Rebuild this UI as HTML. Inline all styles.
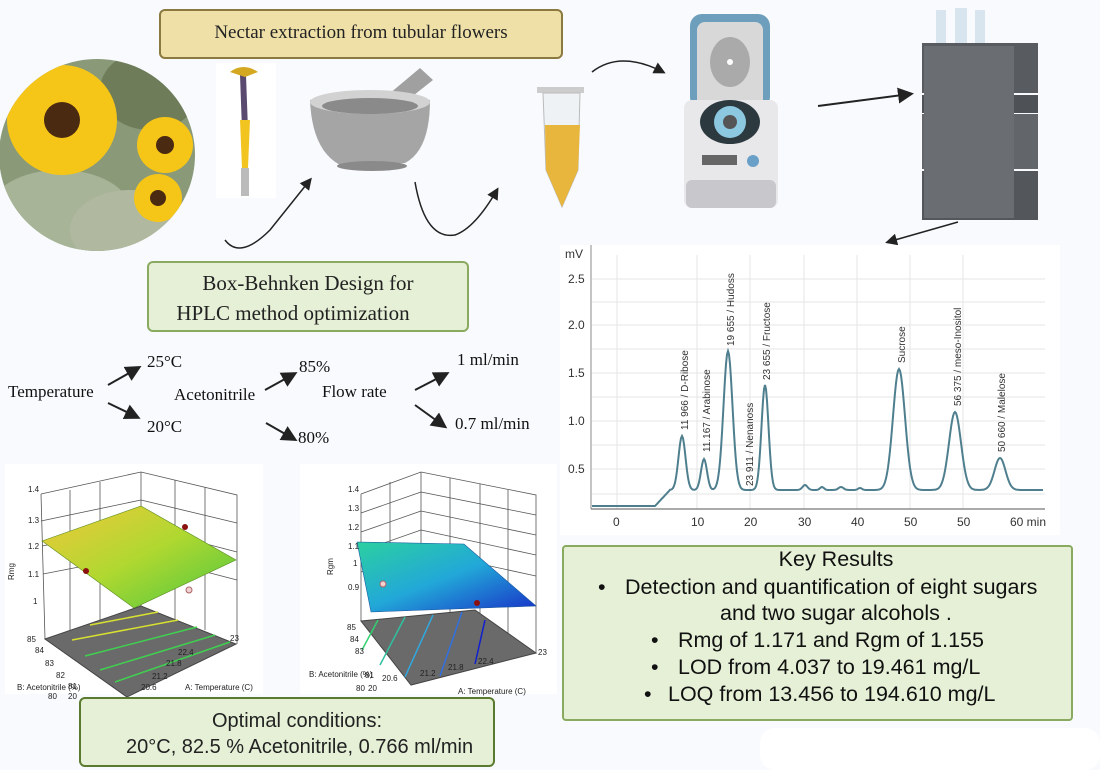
<!DOCTYPE html>
<html><head><meta charset="utf-8"><style>
body{margin:0;width:1100px;height:770px;background:#f8fafd;overflow:hidden;font-family:"Liberation Serif",serif}
svg{position:absolute;left:0;top:0}
</style></head><body>
<svg width="1100" height="770" viewBox="0 0 1100 770" xmlns="http://www.w3.org/2000/svg">
<defs>
<marker id="ah" markerWidth="8" markerHeight="8" refX="6" refY="4" orient="auto"><path d="M0,0 L8,4 L0,8 Z" fill="#222"/></marker>
<clipPath id="cc"><ellipse cx="97" cy="155" rx="98" ry="96"/></clipPath>
<linearGradient id="g1" x1="0" y1="0" x2="1" y2="1"><stop offset="0" stop-color="#f0c83a"/><stop offset="0.5" stop-color="#b0d830"/><stop offset="1" stop-color="#4cc640"/></linearGradient>
<linearGradient id="g2" x1="0" y1="0" x2="1" y2="1"><stop offset="0" stop-color="#2cd0a0"/><stop offset="0.5" stop-color="#22a8d8"/><stop offset="1" stop-color="#1830c8"/></linearGradient>
</defs>
<rect width="1100" height="770" fill="#f8fafd"/>
<!-- flower photo -->
<g clip-path="url(#cc)">
<rect x="-10" y="50" width="210" height="210" fill="#8a9a78"/>
<ellipse cx="60" cy="210" rx="70" ry="40" fill="#a8b498"/>
<ellipse cx="150" cy="90" rx="50" ry="40" fill="#6e7c5a"/>
<ellipse cx="130" cy="230" rx="60" ry="40" fill="#b0b8a0"/>
<circle cx="62" cy="120" r="55" fill="#f5c518"/>
<circle cx="62" cy="120" r="18" fill="#4a2a10"/>
<circle cx="165" cy="145" r="28" fill="#f5c518"/>
<circle cx="165" cy="145" r="9" fill="#4a2a10"/>
<circle cx="158" cy="198" r="24" fill="#f5c518"/>
<circle cx="158" cy="198" r="8" fill="#4a2a10"/>
</g>
<!-- tubular flower -->
<rect x="216" y="63" width="60" height="135" fill="#ffffff"/>
<path d="M240,75 L246,75 L248,130 L242,130 Z" fill="#5a4a70"/>
<path d="M240,120 L250,120 L248,168 L242,168 Z" fill="#f2c420"/>
<path d="M230,72 Q243,62 258,72 L245,77 Z" fill="#d4a820"/>
<rect x="241" y="168" width="8" height="28" fill="#bbb"/>
<!-- nectar box -->
<rect x="160" y="10" width="402" height="48" rx="5" fill="#efe0a8" stroke="#8b7a3f" stroke-width="2"/>
<text x="361" y="38" font-size="19" text-anchor="middle" fill="#222">Nectar extraction from tubular flowers</text>
<!-- mortar -->
<path d="M370,110 L420,68 L433,80 L385,118 Z" fill="#a0a0a0"/>
<path d="M310,100 Q370,88 430,100 Q430,150 405,163 L340,165 Q312,150 310,100 Z" fill="#a5a5a5"/>
<ellipse cx="370" cy="102" rx="60" ry="12" fill="#d2d2d2"/>
<ellipse cx="370" cy="106" rx="48" ry="8" fill="#8a8a8a"/>
<ellipse cx="372" cy="166" rx="35" ry="5" fill="#8a8a8a"/>
<!-- arrows top -->
<path d="M225,240 Q240,260 270,230 Q290,205 310,180" fill="none" stroke="#222" stroke-width="1.5" marker-end="url(#ah)"/>
<path d="M415,182 Q425,240 455,235 Q475,228 497,190" fill="none" stroke="#222" stroke-width="1.5" marker-end="url(#ah)"/>
<path d="M592,72 Q620,50 663,72" fill="none" stroke="#222" stroke-width="1.5" marker-end="url(#ah)"/>
<path d="M818,106 L910,94" fill="none" stroke="#222" stroke-width="2" marker-end="url(#ah)"/>
<path d="M958,222 L888,242" fill="none" stroke="#222" stroke-width="1.5" marker-end="url(#ah)"/>
<!-- tube -->
<rect x="537" y="87" width="47" height="6" fill="#ccc"/>
<path d="M543,93 L580,93 L578,170 L562,207 L546,170 Z" fill="#eef2f4" stroke="#bbb"/>
<path d="M545,125 L580,125 L578,170 L562,207 L546,170 Z" fill="#e8b63c"/>
<!-- centrifuge -->
<rect x="690" y="14" width="80" height="95" rx="12" fill="#6d9fbd"/>
<rect x="697" y="22" width="66" height="85" rx="8" fill="#d8d8d8"/>
<ellipse cx="730" cy="62" rx="20" ry="25" fill="#aaa"/>
<circle cx="730" cy="62" r="3" fill="#fff"/>
<rect x="684" y="100" width="94" height="108" rx="8" fill="#e8e8ea"/>
<ellipse cx="730" cy="122" rx="30" ry="22" fill="#2c3a40"/>
<circle cx="730" cy="122" r="16" fill="#8cc8e0"/>
<circle cx="730" cy="122" r="7" fill="#555"/>
<rect x="702" y="155" width="35" height="10" fill="#666"/>
<circle cx="753" cy="161" r="6" fill="#6aa0c8"/>
<rect x="686" y="180" width="90" height="28" rx="6" fill="#c8c8cc"/>
<!-- HPLC -->
<rect x="936" y="10" width="10" height="33" fill="#d8e4ee"/><rect x="955" y="8" width="12" height="35" fill="#d8e4ee"/><rect x="975" y="10" width="10" height="33" fill="#d8e4ee"/>
<rect x="922" y="43" width="116" height="50" fill="#585b60"/>
<rect x="922" y="95" width="116" height="18" fill="#4e5156"/>
<rect x="922" y="114" width="116" height="55" fill="#62656a"/>
<rect x="922" y="171" width="116" height="49" fill="#53565b"/>
<rect x="924" y="46" width="90" height="172" fill="#6a6d72"/>
<!-- Box-Behnken -->
<rect x="148" y="262" width="320" height="69" rx="5" fill="#e5f0d6" stroke="#8aaa60" stroke-width="2"/>
<text x="308" y="290" font-size="21" text-anchor="middle" fill="#222">Box-Behnken Design for</text>
<text x="293" y="320" font-size="21" text-anchor="middle" fill="#222">HPLC method optimization</text>
<!-- factor tree -->
<g font-size="17" fill="#111">
<text x="8" y="397">Temperature</text>
<text x="147" y="367">25°C</text>
<text x="147" y="432">20°C</text>
<text x="174" y="400">Acetonitrile</text>
<text x="299" y="372">85%</text>
<text x="298" y="443">80%</text>
<text x="322" y="397">Flow rate</text>
<text x="457" y="365">1 ml/min</text>
<text x="455" y="429">0.7 ml/min</text>
</g>
<g stroke="#222" stroke-width="2" marker-end="url(#ah)">
<line x1="108" y1="385" x2="138" y2="368"/>
<line x1="108" y1="403" x2="137" y2="417"/>
<line x1="265" y1="390" x2="294" y2="374"/>
<line x1="266" y1="423" x2="294" y2="439"/>
<line x1="415" y1="390" x2="446" y2="374"/>
<line x1="415" y1="405" x2="444" y2="426"/>
</g>
<!-- 3D plot 1 -->
<rect x="5" y="464" width="258" height="230" fill="#fff"/>
<g stroke="#555" stroke-width="0.8" fill="none">
<path d="M41,494 L141,472 L237,495 L237,644 M141,472 L141,606 M41,494 L45,639"/>
<line x1="41" y1="521" x2="141" y2="500"/><line x1="141" y1="500" x2="237" y2="523"/>
<line x1="42" y1="546" x2="141" y2="527"/><line x1="141" y1="527" x2="237" y2="552"/>
<line x1="43" y1="574" x2="141" y2="555"/><line x1="141" y1="555" x2="237" y2="580"/>
<line x1="70" y1="490" x2="70" y2="640"/><line x1="100" y1="482" x2="100" y2="620"/><line x1="175" y1="480" x2="175" y2="620"/><line x1="205" y1="487" x2="205" y2="630"/>
</g>
<path d="M45,639 L141,606 L236,644 L127,697 Z" fill="#6a6a6a" stroke="#444"/>
<g stroke="#d8e030" stroke-width="1.5"><line x1="90" y1="625" x2="158" y2="612"/><line x1="72" y1="640" x2="178" y2="620"/></g>
<g stroke="#40d050" stroke-width="1.5"><line x1="85" y1="656" x2="197" y2="627"/><line x1="100" y1="670" x2="215" y2="635"/><line x1="115" y1="682" x2="230" y2="642"/></g>
<path d="M42,541 L141,506 L236,560 L134,608 Z" fill="url(#g1)" stroke="#5a8a20" stroke-width="0.6"/>
<circle cx="185" cy="527" r="3" fill="#8b1010"/><circle cx="86" cy="571" r="3" fill="#8b1010"/><circle cx="189" cy="590" r="3" fill="#f0d0d0" stroke="#a66"/>
<g font-family="Liberation Sans,sans-serif" font-size="8" fill="#222">
<text x="28" y="492">1.4</text><text x="28" y="523">1.3</text><text x="28" y="549">1.2</text><text x="28" y="577">1.1</text><text x="33" y="604">1</text>
<text x="27" y="642">85</text><text x="35" y="653">84</text><text x="45" y="666">83</text><text x="56" y="678">82</text><text x="17" y="690">B: Acetonitrile (%)</text><text x="68" y="689">81</text><text x="48" y="699">80</text><text x="68" y="699">20</text>
<text x="141" y="690">20.6</text><text x="152" y="679">21.2</text><text x="166" y="666">21.8</text><text x="178" y="655">22.4</text><text x="230" y="641">23</text>
<text x="185" y="690">A: Temperature (C)</text>
<text transform="translate(14,580) rotate(-90)">Rmg</text>
</g>
<!-- 3D plot 2 -->
<rect x="300" y="464" width="257" height="230" fill="#fff"/>
<g stroke="#555" stroke-width="0.8" fill="none">
<path d="M361,494 L421,472 L536,495 L536,653 M421,472 L421,610 M361,494 L361,621"/>
<line x1="361" y1="513" x2="421" y2="492"/><line x1="421" y1="492" x2="536" y2="515"/>
<line x1="361" y1="532" x2="421" y2="511"/><line x1="421" y1="511" x2="536" y2="535"/>
<line x1="361" y1="551" x2="421" y2="530"/><line x1="421" y1="530" x2="536" y2="555"/>
<line x1="361" y1="572" x2="421" y2="551"/><line x1="421" y1="551" x2="536" y2="576"/>
<line x1="450" y1="478" x2="450" y2="620"/><line x1="480" y1="484" x2="480" y2="630"/><line x1="508" y1="490" x2="508" y2="640"/><line x1="390" y1="482" x2="390" y2="610"/>
</g>
<path d="M361,621 L475,610 L536,653 L411,685 Z" fill="#6a6a6a" stroke="#444"/>
<g stroke-width="1.5"><line x1="362" y1="650" x2="378" y2="620" stroke="#30d070"/><line x1="380" y1="665" x2="405" y2="617" stroke="#30c0a0"/><line x1="405" y1="677" x2="433" y2="615" stroke="#30a8e0"/><line x1="440" y1="676" x2="462" y2="612" stroke="#3070e0"/><line x1="475" y1="664" x2="485" y2="620" stroke="#1020d0"/></g>
<path d="M357,542 L464,544 L536,606 L371,612 Z" fill="url(#g2)" stroke="#1a5aa0" stroke-width="0.6"/>
<circle cx="477" cy="603" r="3" fill="#8b1010"/><circle cx="383" cy="584" r="3" fill="#f0d0d0" stroke="#a66"/>
<g font-family="Liberation Sans,sans-serif" font-size="8" fill="#222">
<text x="348" y="492">1.4</text><text x="348" y="511">1.3</text><text x="348" y="530">1.2</text><text x="348" y="549">1.1</text><text x="353" y="566">1</text><text x="348" y="590">0.9</text>
<text x="347" y="630">85</text><text x="350" y="642">84</text><text x="355" y="654">83</text><text x="309" y="677">B: Acetonitrile (%)</text><text x="365" y="678">81</text><text x="356" y="691">80</text><text x="368" y="691">20</text>
<text x="382" y="681">20.6</text><text x="420" y="676">21.2</text><text x="448" y="670">21.8</text><text x="478" y="664">22.4</text><text x="538" y="655">23</text>
<text x="458" y="694">A: Temperature (C)</text>
<text transform="translate(333,575) rotate(-90)">Rgm</text>
</g>
<!-- Optimal box -->
<rect x="80" y="698" width="414" height="68" rx="5" fill="#e5f0d6" stroke="#5a7a30" stroke-width="2"/>
<g font-family="Liberation Sans,sans-serif" font-size="20" fill="#222"><text x="212" y="727">Optimal  conditions:</text><text x="126" y="753">20°C, 82.5 % Acetonitrile, 0.766 ml/min</text></g>
<!-- chromatogram -->
<rect x="560" y="245" width="500" height="290" fill="#fff"/>
<g stroke="#e6e6e6" stroke-width="1">
<line x1="592" y1="279" x2="1045" y2="279"/><line x1="592" y1="302" x2="1045" y2="302"/><line x1="592" y1="325" x2="1045" y2="325"/><line x1="592" y1="349" x2="1045" y2="349"/><line x1="592" y1="373" x2="1045" y2="373"/><line x1="592" y1="397" x2="1045" y2="397"/><line x1="592" y1="421" x2="1045" y2="421"/><line x1="592" y1="445" x2="1045" y2="445"/><line x1="592" y1="469" x2="1045" y2="469"/><line x1="592" y1="494" x2="1045" y2="494"/>
<line x1="617" y1="255" x2="617" y2="509"/><line x1="697" y1="255" x2="697" y2="509"/><line x1="750" y1="255" x2="750" y2="509"/><line x1="804" y1="255" x2="804" y2="509"/><line x1="857" y1="255" x2="857" y2="509"/><line x1="910" y1="255" x2="910" y2="509"/><line x1="963" y1="255" x2="963" y2="509"/>
</g>
<line x1="591" y1="245" x2="591" y2="509" stroke="#888"/>
<line x1="591" y1="509" x2="1045" y2="509" stroke="#777" stroke-width="1.2"/>
<path id="chrom" d="" fill="none" stroke="#4f7f8e" stroke-width="2"/>
<g font-family="Liberation Sans,sans-serif" font-size="12" fill="#333">
<text x="565" y="258">mV</text>
<text x="568" y="283">2.5</text><text x="568" y="329">2.0</text><text x="568" y="377">1.5</text><text x="568" y="425">1.0</text><text x="568" y="473">0.5</text>
<text x="613" y="526">0</text><text x="691" y="526">10</text><text x="744" y="526">20</text><text x="798" y="526">30</text><text x="851" y="526">40</text><text x="904" y="526">50</text><text x="957" y="526">50</text><text x="1010" y="526">60 min</text>
</g>
<g font-family="Liberation Sans,sans-serif" font-size="10" fill="#333">
<text transform="translate(688,430) rotate(-90)">11 966 / D-Ribose</text>
<text transform="translate(710,452) rotate(-90)">11.167 / Arabinose</text>
<text transform="translate(734,346) rotate(-90)">19 655 / Hudoss</text>
<text transform="translate(753,486) rotate(-90)">23 911 / Nenanoss</text>
<text transform="translate(770,380) rotate(-90)">23 655 / Fructose</text>
<text transform="translate(905,363) rotate(-90)">Sucrose</text>
<text transform="translate(961,406) rotate(-90)">56 375 / meso-Inositol</text>
<text transform="translate(1005,452) rotate(-90)">50 660 / Malelose</text>
</g>
<!-- key results -->
<rect x="563" y="546" width="509" height="174" rx="3" fill="#e5f0d6" stroke="#8aaa60" stroke-width="2"/>
<g font-family="Liberation Sans,sans-serif" font-size="21.5" fill="#111">
<text x="836" y="566" text-anchor="middle">Key Results</text>
<text x="598" y="594">•</text><text x="625" y="594">Detection and quantification of eight sugars</text>
<text x="720" y="620">and two sugar alcohols .</text>
<text x="651" y="647">•</text><text x="678" y="647">Rmg of 1.171  and Rgm of 1.155</text>
<text x="651" y="674">•</text><text x="678" y="674">LOD from 4.037 to 19.461 mg/L</text>
<text x="644" y="701">•</text><text x="668" y="701">LOQ from 13.456 to 194.610 mg/L</text>
</g>
<rect x="760" y="728" width="340" height="42" rx="15" fill="#fff"/>
</svg>
<script>
var peaks=[[682,436,3.5],[704,459,3],[728,351,4.5],[765,385,3.5],[899,369,6],[955,412,6],[1000,458,5.5],[805,485,2.5],[822,487,2],[841,487,2.5],[860,488,2]];
var d="";
for(var x=592;x<=1043;x+=1){
 var base;
 if(x<655) base=506; else if(x<670) base=506-(x-655)/15*16; else base=490;
 var y=base;
 if(x>=670){
  var s=0;
  for(var i=0;i<peaks.length;i++){var p=peaks[i];var h=490-p[1];s+=h*Math.exp(-Math.pow((x-p[0])/p[2],2)/2);}
  y=490-s;
 }
 d+=(x==592?"M":"L")+x+","+y.toFixed(1);
}
document.getElementById("chrom").setAttribute("d",d);
</script>
</body></html>
